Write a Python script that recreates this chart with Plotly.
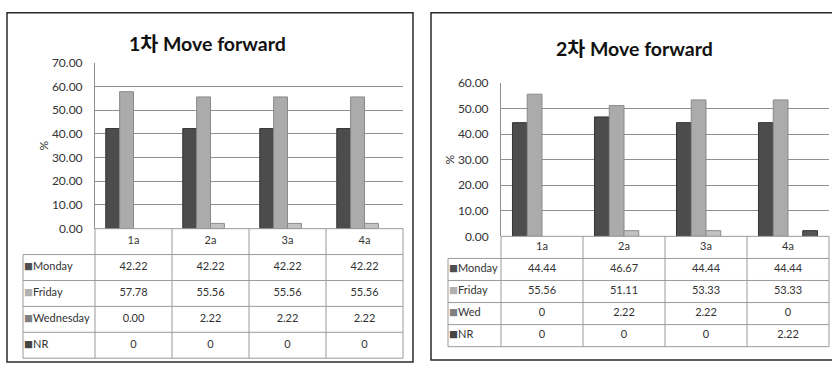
import plotly.graph_objects as go

# ---------------------------------------------------------------- data
categories = ["1a", "2a", "3a", "4a"]

series_1 = ["Monday", "Friday", "Wednesday", "NR"]
monday_1 = [42.22, 42.22, 42.22, 42.22]
friday_1 = [57.78, 55.56, 55.56, 55.56]
wednesday_1 = [0.00, 2.22, 2.22, 2.22]
nr_1 = [0, 0, 0, 0]
decimals_1 = [None, None, 2, None]      # None -> general number format

series_2 = ["Monday", "Friday", "Wed", "NR"]
monday_2 = [44.44, 46.67, 44.44, 44.44]
friday_2 = [55.56, 51.11, 53.33, 53.33]
wed_2 = [0, 2.22, 2.22, 0]
nr_2 = [0, 0, 0, 2.22]
decimals_2 = [None, None, None, None]

ticks_1 = [0, 10, 20, 30, 40, 50, 60, 70]
ticks_2 = [0, 10, 20, 30, 40, 50, 60]

title_1 = "1차 Move forward"
title_2 = "2차 Move forward"

# ---------------------------------------------------------------- styling
W, H = 832, 370
FONT = "Lato, 'Noto Sans CJK KR', sans-serif"
TEXT = "#333333"
GRID = "#8f8f8f"
TABLE_LINE = "#9a9a9a"
BAR_FILL = ["#4c4c4c", "#ababab", "#c2c2c2", "#555555"]
BAR_EDGE = ["#333333", "#8a8a8a", "#8a8a8a", "#333333"]
KEY_COLOR = ["#505050", "#b0b0b0", "#808080", "#454545"]
TABLE_FONT = 11


def fx(px):
    return px / W


def fy(py):
    return 1 - py / H


def fmt(v, dec):
    return f"{v:.{dec}f}" if dec is not None else f"{v:g}"


# pixel layout of each panel
panels = [
    dict(title=title_1, names=series_1, values=[monday_1, friday_1, wednesday_1, nr_1],
         decimals=decimals_1, ticks=ticks_1,
         box=(7, 5, 413, 369), title_xy=(207, 37),
         plot=(95, 57, 403, 230), label_x0=23, table_bot=365,
         ax=("x", "y", "x3", "y3")),
    dict(title=title_2, names=series_2, values=[monday_2, friday_2, wed_2, nr_2],
         decimals=decimals_2, ticks=ticks_2,
         box=(431, 5, 840, 367), title_xy=(634, 42),
         plot=(501, 78, 829, 238), label_x0=448, table_bot=353,
         ax=("x2", "y2", "x4", "y4")),
]

fig = go.Figure()
layout = dict(
    width=W, height=H,
    margin=dict(l=0, r=0, t=0, b=0),
    paper_bgcolor="white", plot_bgcolor="rgba(0,0,0,0)",
    showlegend=False, barmode="group", bargap=0.28, bargroupgap=0,
    font=dict(family=FONT, size=12, color=TEXT),
)
shapes = []
annotations = []

for p in panels:
    xa, ya, xt, yt = p["ax"]
    x0, y0, x1, y1 = p["plot"]
    ncat = len(categories)
    nrows = len(p["names"]) + 1

    # ---- bars (zero-height bars get no outline so they stay invisible)
    for k, (name, vals) in enumerate(zip(p["names"], p["values"])):
        fig.add_trace(go.Bar(
            x=categories, y=vals, name=name, xaxis=xa, yaxis=ya,
            marker=dict(color=BAR_FILL[k],
                        line=dict(color=BAR_EDGE[k], width=[1 if v else 0 for v in vals])),
            hoverinfo="skip",
        ))

    ymax = p["ticks"][-1]
    layout["xaxis" + xa[1:]] = dict(
        domain=[fx(x0), fx(x1)], anchor=ya, type="category",
        categoryorder="array", categoryarray=categories,
        range=[-0.5, ncat - 0.5], showticklabels=False, showgrid=False,
        zeroline=False, showline=False, ticks="", fixedrange=True,
    )
    layout["yaxis" + ya[1:]] = dict(
        domain=[fy(y1), fy(y0)], anchor=xa, range=[0, ymax],
        tickvals=p["ticks"], tickformat=".2f", ticks="", ticklabelstandoff=9,
        showgrid=True, gridcolor=GRID, gridwidth=1, zeroline=False,
        showline=True, linecolor=GRID, linewidth=1,
        tickfont=dict(size=12, color=TEXT),
        title=dict(text="%", standoff=0, font=dict(size=12, color=TEXT)),
        fixedrange=True,
    )

    # ---- data table, on its own axes that share the category spacing
    unit = (x1 - x0) / ncat
    lw = (x0 - p["label_x0"]) / unit          # label column width in category units
    rh = (p["table_bot"] - y1) / nrows          # row height in px
    pad = 3
    left = -0.5 - lw
    right = ncat - 0.5
    layout["xaxis" + xt[1:]] = dict(
        domain=[fx(p["label_x0"] - pad), min(1.0, fx(x1 + pad))], anchor=yt,
        range=[left - pad / unit, right + (min(W, x1 + pad) - x1) / unit],
        visible=False, fixedrange=True,
    )
    layout["yaxis" + yt[1:]] = dict(
        domain=[fy(p["table_bot"] + pad), fy(y1 - pad)], anchor=xt,
        range=[nrows + pad / rh, -pad / rh], visible=False, fixedrange=True,
    )

    line = dict(color=TABLE_LINE, width=1)
    # horizontal rules
    shapes.append(dict(type="line", xref=xt, yref=yt, x0=-0.5, x1=right, y0=0, y1=0, line=line))
    for r in range(1, nrows + 1):
        shapes.append(dict(type="line", xref=xt, yref=yt, x0=left, x1=right, y0=r, y1=r, line=line))
    # vertical rules
    shapes.append(dict(type="line", xref=xt, yref=yt, x0=left, x1=left, y0=1, y1=nrows, line=line))
    for c in range(ncat + 1):
        xc = c - 0.5
        shapes.append(dict(type="line", xref=xt, yref=yt, x0=xc, x1=xc, y0=0, y1=nrows, line=line))

    # header row with category names
    fig.add_trace(go.Scatter(
        x=list(range(ncat)), y=[0.5] * ncat, text=categories, mode="text",
        textposition="middle center", textfont=dict(size=TABLE_FONT, color=TEXT),
        xaxis=xt, yaxis=yt, hoverinfo="skip",
    ))
    # value rows
    for k, (name, vals) in enumerate(zip(p["names"], p["values"])):
        fig.add_trace(go.Scatter(
            x=list(range(ncat)), y=[k + 1.5] * ncat,
            text=[fmt(v, p["decimals"][k]) for v in vals], mode="text",
            textposition="middle center", textfont=dict(size=TABLE_FONT, color=TEXT),
            xaxis=xt, yaxis=yt, hoverinfo="skip",
        ))
        fig.add_trace(go.Scatter(
            x=[left + 1 / unit], y=[k + 1.5],
            text=[f"<span style='color:{KEY_COLOR[k]};font-size:9px'>■</span>{name}"],
            mode="text", textposition="middle right",
            textfont=dict(size=TABLE_FONT, color=TEXT),
            xaxis=xt, yaxis=yt, hoverinfo="skip",
        ))

    # ---- chart frame and title
    bx0, by0, bx1, by1 = p["box"]
    shapes.append(dict(type="rect", xref="paper", yref="paper",
                       x0=fx(bx0), x1=fx(bx1), y0=fy(by1), y1=fy(by0),
                       line=dict(color="#2a2a2a", width=1.5), layer="above"))
    tx, ty = p["title_xy"]
    annotations.append(dict(
        text=p["title"], xref="paper", yref="paper", x=fx(tx), y=fy(ty),
        xanchor="center", yanchor="middle", showarrow=False,
        font=dict(family=FONT, size=19.5, color="#111111", weight="bold"),
    ))

layout["shapes"] = shapes
layout["annotations"] = annotations
fig.update_layout(**layout)
fig.write_html("out.html")
